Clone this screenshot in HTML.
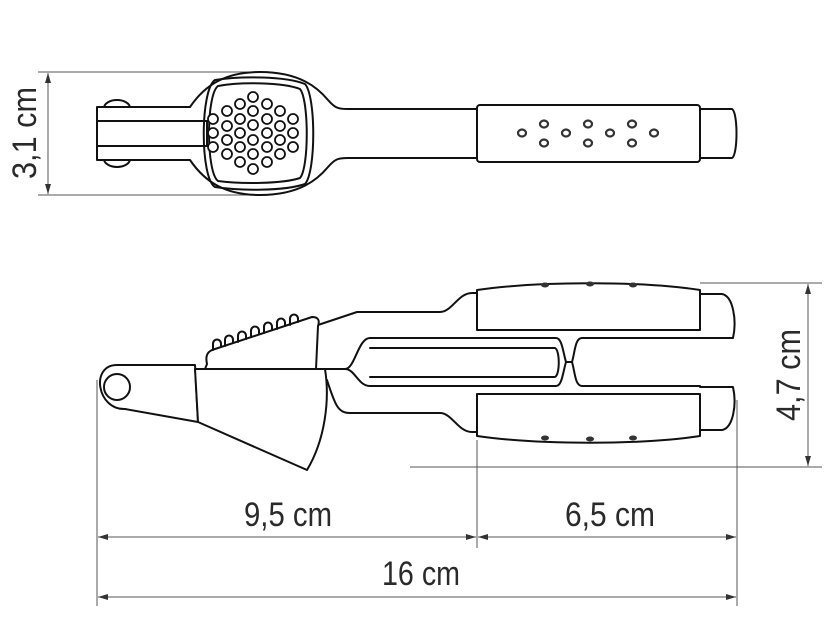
<!DOCTYPE html>
<html><head><meta charset="utf-8"><style>
html,body{margin:0;padding:0;background:#fff}
svg{display:block}
text{font-family:"Liberation Sans",sans-serif;fill:#2a2a2a}
</style></head><body>
<svg width="831" height="620" viewBox="0 0 831 620" xmlns="http://www.w3.org/2000/svg">
<defs>
<marker id="a" viewBox="0 0 10 6" refX="10" refY="3" markerWidth="10" markerHeight="6" markerUnits="userSpaceOnUse" orient="auto-start-reverse"><path d="M0,0L10,3L0,6z" fill="#333"/></marker>
</defs>
<g stroke="#555" stroke-width="1" fill="none">
<line x1="38" y1="72" x2="250" y2="72"/><line x1="38" y1="195" x2="250" y2="195"/>
<line x1="48" y1="73" x2="48" y2="194" marker-start="url(#a)" marker-end="url(#a)"/>
<line x1="700" y1="283" x2="822" y2="283"/><line x1="410" y1="467" x2="822" y2="467"/>
<line x1="808" y1="284" x2="808" y2="466" marker-start="url(#a)" marker-end="url(#a)"/>
<line x1="97" y1="380" x2="97" y2="606"/><line x1="477" y1="440" x2="477" y2="548"/><line x1="737" y1="400" x2="737" y2="606"/>
<line x1="98" y1="537" x2="476" y2="537" marker-start="url(#a)" marker-end="url(#a)"/>
<line x1="478" y1="537" x2="736" y2="537" marker-start="url(#a)" marker-end="url(#a)"/>
<line x1="98" y1="597" x2="736" y2="597" marker-start="url(#a)" marker-end="url(#a)"/>
</g>
<text x="0" y="0" font-size="34" transform="translate(36,133) rotate(-90)" text-anchor="middle" textLength="92" lengthAdjust="spacingAndGlyphs">3,1 cm</text>
<text x="0" y="0" font-size="34" transform="translate(800,375) rotate(-90)" text-anchor="middle" textLength="92" lengthAdjust="spacingAndGlyphs">4,7 cm</text>
<text x="288" y="526" font-size="34" text-anchor="middle" textLength="88" lengthAdjust="spacingAndGlyphs">9,5 cm</text>
<text x="610" y="526" font-size="34" text-anchor="middle" textLength="90" lengthAdjust="spacingAndGlyphs">6,5 cm</text>
<text x="421" y="585" font-size="34" text-anchor="middle" textLength="78" lengthAdjust="spacingAndGlyphs">16 cm</text>

<g stroke="#111" stroke-width="2" fill="#fff" stroke-linejoin="round">
<!-- top view -->
<ellipse cx="117" cy="108" rx="13" ry="8"/><ellipse cx="117" cy="159" rx="13" ry="8"/>
<path d="M97,107 H190 C205,85 225,72 260,72 C300,72 318,88 328,100 C335,108 338,109 348,109 H478 V158 H348 C338,158 335,159 328,167 C318,179 300,195 260,195 C225,195 205,182 190,160 H97 Z"/>
<path d="M215,80 C240,76 285,76 305,84 C316,96 316,172 305,184 C285,191 240,191 215,187 C200,178 200,90 215,80 Z" fill="none"/>
<path d="M218,86 C240,82 282,82 300,89 C309,100 309,168 300,178 C282,184 240,184 218,181 C206,172 206,95 218,86 Z" fill="none"/>
<line x1="97" y1="121" x2="200" y2="121"/><line x1="97" y1="146" x2="200" y2="146"/>
<path d="M200,121 H207 V146 H200" fill="none"/>
<rect x="477" y="105" width="223" height="57" rx="3"/>
<path d="M700,109 H732 C738,112 738,155 732,158 H700 Z"/>
</g>
<g stroke="#111" stroke-width="1.8" fill="#fff">
<circle cx="253" cy="97" r="5"/><circle cx="253" cy="111" r="5"/><circle cx="253" cy="125" r="5"/><circle cx="253" cy="140" r="5"/><circle cx="253" cy="154" r="5"/><circle cx="253" cy="169" r="5"/>
<circle cx="240" cy="104" r="5"/><circle cx="240" cy="119" r="5"/><circle cx="240" cy="133" r="5"/><circle cx="240" cy="147" r="5"/><circle cx="240" cy="162" r="5"/>
<circle cx="267" cy="104" r="5"/><circle cx="267" cy="119" r="5"/><circle cx="267" cy="133" r="5"/><circle cx="267" cy="147" r="5"/><circle cx="267" cy="162" r="5"/>
<circle cx="227" cy="111" r="5"/><circle cx="227" cy="126" r="5"/><circle cx="227" cy="140" r="5"/><circle cx="227" cy="154" r="5"/>
<circle cx="280" cy="111" r="5"/><circle cx="280" cy="126" r="5"/><circle cx="280" cy="140" r="5"/><circle cx="280" cy="154" r="5"/>
<circle cx="213" cy="119" r="5"/><circle cx="213" cy="133" r="5"/><circle cx="213" cy="147" r="5"/>
<circle cx="293" cy="119" r="5"/><circle cx="293" cy="133" r="5"/><circle cx="293" cy="147" r="5"/>
</g>
<g stroke="#333" stroke-width="2.2" fill="#fff">
<ellipse cx="522" cy="133" rx="4" ry="3.5"/><ellipse cx="544" cy="124" rx="4" ry="3.5"/><ellipse cx="544" cy="143" rx="4" ry="3.5"/>
<ellipse cx="566" cy="133" rx="4" ry="3.5"/><ellipse cx="588" cy="124" rx="4" ry="3.5"/><ellipse cx="588" cy="143" rx="4" ry="3.5"/>
<ellipse cx="610" cy="133" rx="4" ry="3.5"/><ellipse cx="632" cy="124" rx="4" ry="3.5"/><ellipse cx="632" cy="143" rx="4" ry="3.5"/>
<ellipse cx="654" cy="133" rx="4" ry="3.5"/>
</g>

<!-- side view -->
<g stroke="#111" stroke-width="2" fill="none" stroke-linejoin="round" stroke-linecap="round">
<path d="M318,325 L357,312 H440 C452,312 458,293 472,293 H477"/>
<path d="M327,380 C335,405 338,413 350,413 H440 C452,413 458,432 472,432 H477"/>
<path d="M320,369 H345 C355,369 358,338 370,338 H556 C562,338 563,352 566,362"/>
<path d="M345,369 C355,369 358,386 370,386 H556 C562,386 563,372 566,362"/>
<path d="M566,362 H572"/>
<path d="M572,362 C575,352 575,338 582,338 H700"/>
<path d="M572,362 C575,372 575,386 582,386 H700"/>
<path d="M370,348 H555 C560,350 560,375 555,377 H370"/>
<path d="M700,294 H722 C733,296 737,320 733,338 H700"/>
<path d="M700,387 H733 C737,405 733,428 722,430 H700"/>
<path d="M477,290 C540,281 640,281 700,290 V330 H477 Z" fill="#fff"/>
<path d="M477,394 H700 V436 C640,445 540,445 477,436 Z" fill="#fff"/>
<path d="M207,364 C205,355 208,352 212,350 L312,317 C318,317 320,320 318,326 L316,369 H205 Z" fill="#fff"/>
<path d="M117,365 H195 L198,422 L125,409 C97,410 90,365 117,365 Z" fill="#fff"/>
<circle cx="117" cy="387" r="13" fill="#fff"/>
<path d="M195,369 H325 C330,400 325,440 307,470 L198,422 Z" fill="#fff"/>
<path d="M213,350 V344 C213,338 221,338 221,344 V347"/>
<path d="M225,346 V340 C225,334 233,334 233,340 V343"/>
<path d="M238,342 V336 C238,330 246,330 246,336 V339"/>
<path d="M251,337 V331 C251,325 259,325 259,331 V334"/>
<path d="M264,333 V327 C264,321 272,321 272,327 V330"/>
<path d="M277,329 V323 C277,317 285,317 285,323 V326"/>
<path d="M290,325 V319 C290,313 298,313 298,319 V322"/>
</g>
<g fill="#333">
<ellipse cx="545" cy="285" rx="4" ry="2.5"/><ellipse cx="590" cy="284" rx="4" ry="2.5"/><ellipse cx="633" cy="285" rx="4" ry="2.5"/>
<ellipse cx="545" cy="438" rx="4" ry="2.5"/><ellipse cx="590" cy="439" rx="4" ry="2.5"/><ellipse cx="633" cy="438" rx="4" ry="2.5"/>
</g>
</svg>
</body></html>
